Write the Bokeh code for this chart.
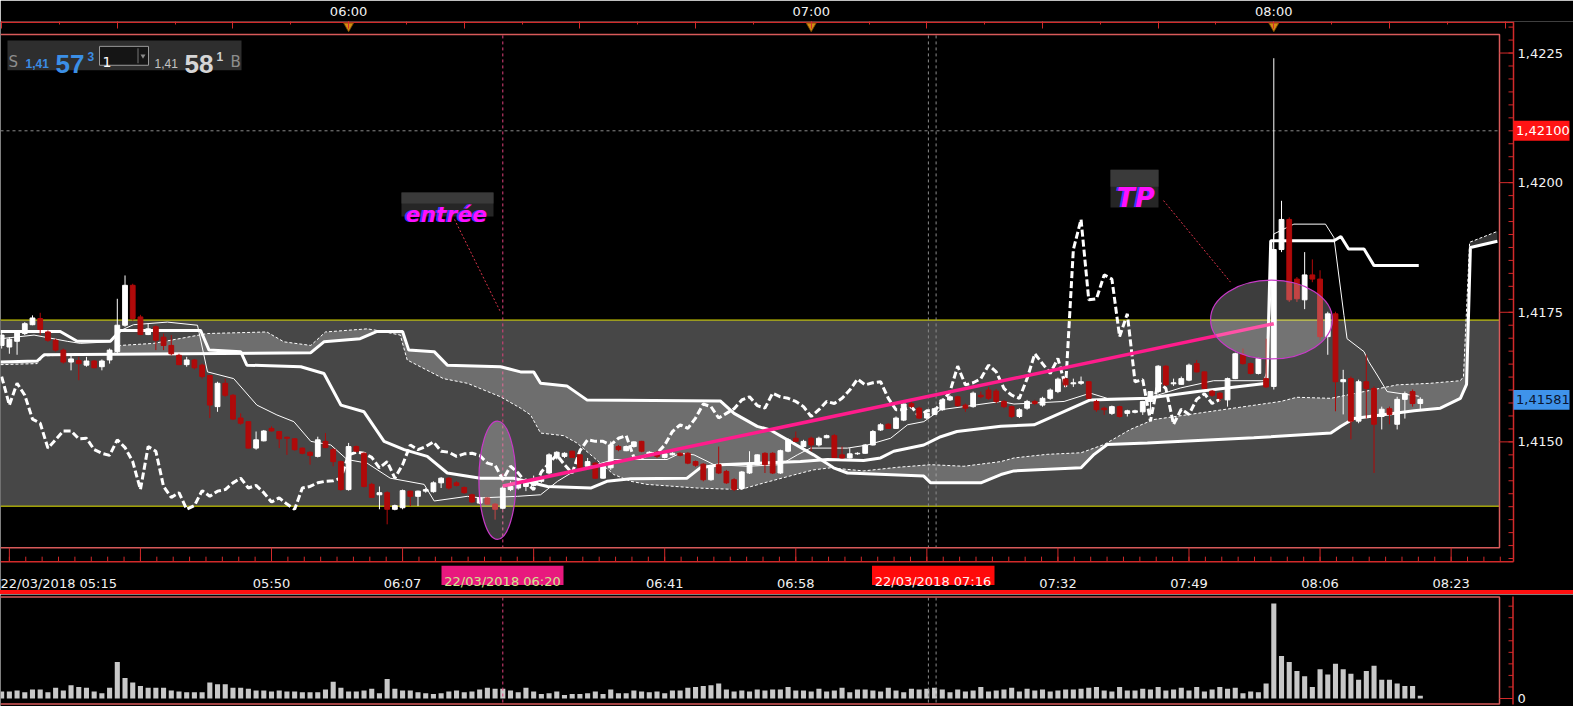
import json
from bokeh.plotting import figure
from bokeh.models import (Range1d, LinearAxis, FixedTicker, CustomJSTickFormatter,
                          Spacer, ColumnDataSource)
from bokeh.layouts import column
from bokeh.embed import file_html
from bokeh.resources import INLINE
from bokeh.core.properties import value

# ------------------------------------------------------------------ data
# one-minute bars, minutes since midnight, 22/03/2018 05:15 .. 08:19
times = list(range(315, 500))

open_ = [
 1.41686,1.41683,1.41694,1.41709,1.41726,1.41738,1.41712,1.41696,1.41677,1.41654,
 1.41657,1.41648,1.41656,1.41645,1.41658,1.41674,1.41725,1.41802,1.41741,1.41707,
 1.41722,1.41702,1.41686,1.41667,1.41649,1.41658,1.41648,1.41628,1.41568,1.41613,
 1.41590,1.41546,1.41539,1.41488,1.41502,1.41526,1.41520,1.41509,1.41506,1.41488,
 1.41480,1.41472,1.41501,1.41485,1.41462,1.41408,1.41491,1.41478,1.41418,1.41398,
 1.41402,1.41370,1.41373,1.41405,1.41395,1.41405,1.41404,1.41421,1.41430,1.41421,
 1.41412,1.41398,1.41382,1.41392,1.41380,1.41372,1.41408,1.41411,1.41414,1.41416,
 1.41424,1.41440,1.41469,1.41472,1.41482,1.41475,1.41453,1.41459,1.41430,1.41450,
 1.41491,1.41483,1.41491,1.41501,1.41475,1.41480,1.41470,1.41475,1.41478,1.41478,
 1.41462,1.41457,1.41427,1.41456,1.41443,1.41427,1.41410,1.41440,1.41456,1.41478,
 1.41478,1.41440,1.41482,1.41507,1.41491,1.41507,1.41494,1.41508,1.41512,1.41475,
 1.41469,1.41477,1.41478,1.41494,1.41523,1.41534,1.41526,1.41542,1.41574,1.41565,
 1.41546,1.41553,1.41562,1.41581,1.41587,1.41571,1.41568,1.41590,1.41600,1.41598,
 1.41578,1.41568,1.41549,1.41565,1.41578,1.41571,1.41584,1.41597,1.41621,1.41612,
 1.41613,1.41616,1.41578,1.41565,1.41555,1.41568,1.41555,1.41557,1.41558,1.41578,
 1.41597,1.41646,1.41612,1.41611,1.41619,1.41651,1.41635,1.41598,1.41594,1.41581,
 1.41622,1.41668,1.41651,1.41632,1.41622,1.41607,1.41871,1.41929,1.41814,1.41774,
 1.41822,1.41814,1.41703,1.41747,1.41616,1.41622,1.41540,1.41616,1.41603,1.41549,
 1.41564,1.41534,1.41582,1.41597,1.41574]

high = [
 1.41712,1.41702,1.41715,1.41731,1.41744,1.41749,1.41715,1.41699,1.41680,1.41670,
 1.41664,1.41664,1.41658,1.41659,1.41680,1.41776,1.41821,1.41805,1.41745,1.41728,
 1.41725,1.41709,1.41706,1.41670,1.41664,1.41660,1.41651,1.41629,1.41616,1.41622,
 1.41592,1.41555,1.41540,1.41520,1.41523,1.41530,1.41521,1.41510,1.41507,1.41489,
 1.41482,1.41510,1.41517,1.41488,1.41464,1.41498,1.41493,1.41480,1.41421,1.41414,
 1.41405,1.41379,1.41408,1.41406,1.41406,1.41411,1.41424,1.41432,1.41432,1.41424,
 1.41414,1.41400,1.41393,1.41393,1.41382,1.41414,1.41424,1.41430,1.41430,1.41435,
 1.41434,1.41478,1.41482,1.41480,1.41483,1.41476,1.41469,1.41461,1.41457,1.41501,
 1.41494,1.41493,1.41501,1.41502,1.41482,1.41482,1.41478,1.41480,1.41480,1.41480,
 1.41464,1.41459,1.41455,1.41491,1.41446,1.41430,1.41444,1.41482,1.41476,1.41480,
 1.41480,1.41485,1.41507,1.41520,1.41504,1.41510,1.41510,1.41514,1.41515,1.41491,
 1.41488,1.41480,1.41496,1.41523,1.41536,1.41536,1.41549,1.41574,1.41578,1.41568,
 1.41558,1.41566,1.41584,1.41590,1.41589,1.41574,1.41597,1.41597,1.41606,1.41602,
 1.41581,1.41570,1.41565,1.41581,1.41581,1.41587,1.41603,1.41624,1.41624,1.41622,
 1.41626,1.41617,1.41581,1.41568,1.41570,1.41570,1.41562,1.41562,1.41579,1.41598,
 1.41648,1.41648,1.41622,1.41626,1.41651,1.41658,1.41636,1.41600,1.41596,1.41624,
 1.41672,1.41680,1.41653,1.41662,1.41699,1.42240,1.41965,1.41933,1.41818,1.41866,
 1.41852,1.41831,1.41751,1.41751,1.41639,1.41626,1.41620,1.41668,1.41607,1.41568,
 1.41568,1.41587,1.41597,1.41601,1.41586]

low = [
 1.41680,1.41670,1.41668,1.41706,1.41725,1.41706,1.41693,1.41674,1.41651,1.41638,
 1.41619,1.41645,1.41642,1.41638,1.41651,1.41670,1.41722,1.41734,1.41706,1.41706,
 1.41677,1.41677,1.41667,1.41648,1.41645,1.41640,1.41622,1.41546,1.41558,1.41587,
 1.41542,1.41533,1.41487,1.41485,1.41501,1.41520,1.41488,1.41475,1.41483,1.41476,
 1.41456,1.41470,1.41488,1.41453,1.41406,1.41406,1.41480,1.41412,1.41392,1.41370,
 1.41341,1.41368,1.41370,1.41376,1.41376,1.41402,1.41402,1.41411,1.41408,1.41414,
 1.41400,1.41382,1.41380,1.41379,1.41350,1.41370,1.41405,1.41408,1.41405,1.41414,
 1.41421,1.41437,1.41466,1.41469,1.41469,1.41446,1.41451,1.41429,1.41429,1.41446,
 1.41482,1.41482,1.41489,1.41480,1.41472,1.41469,1.41468,1.41474,1.41472,1.41457,
 1.41452,1.41424,1.41425,1.41438,1.41419,1.41405,1.41408,1.41438,1.41455,1.41440,
 1.41438,1.41438,1.41480,1.41500,1.41489,1.41482,1.41491,1.41507,1.41469,1.41468,
 1.41468,1.41475,1.41477,1.41493,1.41521,1.41525,1.41525,1.41540,1.41565,1.41544,
 1.41544,1.41552,1.41560,1.41579,1.41568,1.41558,1.41566,1.41584,1.41581,1.41574,
 1.41565,1.41546,1.41546,1.41562,1.41571,1.41568,1.41581,1.41594,1.41606,1.41606,
 1.41610,1.41583,1.41558,1.41552,1.41552,1.41547,1.41549,1.41555,1.41552,1.41552,
 1.41594,1.41608,1.41608,1.41610,1.41617,1.41634,1.41602,1.41587,1.41578,1.41568,
 1.41621,1.41649,1.41630,1.41630,1.41604,1.41601,1.41866,1.41770,1.41770,1.41756,
 1.41808,1.41697,1.41668,1.41559,1.41553,1.41505,1.41536,1.41545,1.41440,1.41524,
 1.41534,1.41524,1.41545,1.41568,1.41563]

close = [
 1.41706,1.41698,1.41712,1.41728,1.41739,1.41717,1.41696,1.41677,1.41654,1.41660,
 1.41651,1.41656,1.41643,1.41656,1.41677,1.41725,1.41802,1.41738,1.41707,1.41718,
 1.41696,1.41686,1.41670,1.41649,1.41658,1.41643,1.41626,1.41571,1.41613,1.41590,
 1.41544,1.41536,1.41488,1.41504,1.41521,1.41521,1.41506,1.41507,1.41485,1.41478,
 1.41474,1.41504,1.41489,1.41462,1.41408,1.41491,1.41482,1.41414,1.41393,1.41402,
 1.41370,1.41377,1.41406,1.41395,1.41405,1.41408,1.41421,1.41430,1.41411,1.41416,
 1.41402,1.41384,1.41392,1.41380,1.41370,1.41411,1.41414,1.41421,1.41424,1.41425,
 1.41430,1.41475,1.41480,1.41478,1.41470,1.41450,1.41462,1.41430,1.41456,1.41494,
 1.41485,1.41491,1.41500,1.41482,1.41480,1.41472,1.41477,1.41478,1.41474,1.41459,
 1.41455,1.41427,1.41453,1.41440,1.41421,1.41408,1.41442,1.41459,1.41475,1.41456,
 1.41440,1.41483,1.41504,1.41501,1.41501,1.41494,1.41507,1.41512,1.41470,1.41469,
 1.41477,1.41478,1.41494,1.41520,1.41533,1.41526,1.41546,1.41573,1.41568,1.41546,
 1.41555,1.41564,1.41581,1.41587,1.41570,1.41565,1.41594,1.41587,1.41584,1.41578,
 1.41568,1.41549,1.41562,1.41578,1.41574,1.41584,1.41600,1.41621,1.41610,1.41614,
 1.41616,1.41584,1.41562,1.41562,1.41568,1.41549,1.41560,1.41560,1.41578,1.41597,
 1.41646,1.41610,1.41614,1.41622,1.41648,1.41635,1.41603,1.41590,1.41584,1.41622,
 1.41670,1.41651,1.41632,1.41661,1.41606,1.41871,1.41929,1.41774,1.41776,1.41822,
 1.41814,1.41703,1.41747,1.41616,1.41620,1.41540,1.41616,1.41603,1.41534,1.41563,
 1.41553,1.41582,1.41593,1.41574,1.41582]

volume = [
 8,8,9,7,10,10,7,12,9,15, 13,12,8,6,12,41,23,18,14,12,
 12,12,9,8,7,7,7,18,16,16, 12,12,11,9,9,8,9,8,8,7,
 7,7,10,19,12,8,8,9,11,6, 22,11,9,9,7,6,5,6,8,9,
 7,8,10,12,11,11,9,7,12,8, 5,6,8,4,5,5,6,8,5,10,
 6,6,9,8,7,8,6,9,9,12, 13,14,15,17,10,8,9,8,10,9,
 10,10,13,9,9,8,11,8,9,12, 7,10,10,9,8,12,9,7,11,10,
 11,12,10,7,10,8,9,13,8,9, 10,12,8,11,9,10,8,9,10,10,
 11,12,13,9,8,13,9,9,11,10, 13,9,10,12,9,13,8,10,13,11,
 12,6,8,7,17,107,48,41,31,25, 13,33,27,39,33,28,21,31,37,21,
 21,17,14,14,3]

# Ichimoku lines (time in minutes, price)
tenkan_t = [314.85,319.2,323.5,325.2,329.1,330.0,332.1,336.5,340.4,341.7,345.1,348.1,350.7,352.9,355.1,
            357.7,359.8,362.4,365.4,369.8,371.1,375.4,377.1,381.9,384.9,387.1,389.2,394.4,401.3,403.0,
            404.8,407.4,411.7,416.0,418.2,419.9,424.7,427.3,430.3,432.5,434.6,436.8,439.8,444.6,446.3,
            452.8,456.2,458.4,463.6,467.9,472.2,478.7,479.1,480.0,482.6,486.7,487.8,489.1,489.5,491.7,
            492.3,493.4,494.7,498.8]
tenkan_p = [1.41699,1.41706,1.41694,1.41690,1.41693,1.41712,1.41726,1.41731,1.41725,1.41635,
            1.41622,1.41571,1.41552,1.41539,1.41501,1.41494,1.41466,1.41459,1.41430,1.41418,
            1.41386,1.41395,1.41392,1.41395,1.41398,1.41424,1.41443,1.41466,1.41466,1.41478,
            1.41475,1.41456,1.41453,1.41456,1.41475,1.41488,1.41488,1.41494,1.41507,1.41533,
            1.41539,1.41562,1.41568,1.41578,1.41573,1.41578,1.41594,1.41584,1.41584,1.41604,
            1.41618,1.41618,1.41635,1.41901,1.41920,1.41920,1.41894,1.41744,1.41699,1.41674,
            1.41655,1.41629,1.41597,1.41588]

kijun_t = [314.85,322.6,324.8,329.1,330.4,340.8,341.9,346.0,346.8,353.8,356.8,359.0,362.0,364.6,367.2,
           370.2,372.8,377.1,381.4,385.8,391.4,393.5,396.6,403.9,405.6,408.2,418.6,422.1,426.8,429.0,
           430.7,434.6,436.8,438.9,444.6,448.9,456.2,463.6,470.1,479.1,479.6,487.8,488.7,489.7,491.7,
           493.0,498.8]
kijun_p = [1.41713,1.41713,1.41694,1.41694,1.41715,1.41715,1.41677,1.41674,1.41648,1.41645,
           1.41632,1.41571,1.41558,1.41501,1.41485,1.41472,1.41440,1.41430,1.41430,1.41414,
           1.41411,1.41424,1.41429,1.41430,1.41450,1.41456,1.41462,1.41466,1.41464,1.41469,
           1.41482,1.41494,1.41510,1.41520,1.41530,1.41533,1.41581,1.41584,1.41597,1.41613,
           1.41888,1.41888,1.41896,1.41872,1.41872,1.41840,1.41840]

span_a_t = [314.85,319.6,320.5,329.5,330.4,334.7,341.7,349.4,351.6,355.1,357.0,362.4,363.7,366.7,367.6,
            372.3,375.4,379.7,382.3,383.6,384.9,387.9,389.6,394.4,396.6,398.7,405.2,410.8,413.9,418.2,
            420.3,422.5,426.8,431.2,435.5,439.8,444.6,446.3,450.6,455.0,458.0,461.4,464.4,480.9,483.0,
            487.4,491.7,496.0,500.3,504.2,504.6,505.4,509.0]
span_a_p = [1.41649,1.41651,1.41666,1.41670,1.41686,1.41690,1.41709,1.41712,1.41693,1.41686,
            1.41712,1.41718,1.41715,1.41706,1.41658,1.41622,1.41613,1.41587,1.41565,1.41552,
            1.41517,1.41512,1.41498,1.41437,1.41424,1.41418,1.41411,1.41408,1.41421,1.41438,
            1.41446,1.41450,1.41444,1.41451,1.41456,1.41453,1.41462,1.41469,1.41476,1.41479,
            1.41495,1.41524,1.41543,1.41578,1.41586,1.41584,1.41597,1.41610,1.41613,1.41618,
            1.41626,1.41885,1.41906]

span_b_t = [314.85,319.6,320.5,355.1,356.8,361.5,363.7,367.0,367.8,371.1,372.8,379.7,382.3,384.0,384.9,
            388.3,390.9,408.2,410.0,413.0,414.7,420.3,422.9,424.7,434.6,435.5,442.0,444.6,446.3,455.0,
            456.7,458.4,463.6,477.4,487.4,488.7,490.4,498.2,501.6,504.2,505.0,505.5,509.0]
span_b_p = [1.41654,1.41656,1.41668,1.41672,1.41693,1.41699,1.41713,1.41713,1.41677,1.41674,
            1.41648,1.41645,1.41635,1.41635,1.41613,1.41608,1.41581,1.41579,1.41555,1.41530,
            1.41523,1.41475,1.41450,1.41440,1.41434,1.41421,1.41421,1.41437,1.41444,1.41450,
            1.41476,1.41495,1.41498,1.41508,1.41517,1.41530,1.41545,1.41560,1.41565,1.41584,
            1.41611,1.41875,1.41887]

# trade annotations
zone_top, zone_bottom = 1.41735, 1.41376
entry_time, entry_price = 380, 1.41415
tp_time, tp_price = 480, 1.41728
entry_ell = (379.3, 1.41426, 4.8, 0.00228)     # centre t, centre price, width (min), height (price)
tp_ell = (479.7, 1.41736, 15.8, 0.00152)
alert_level = 1.42100
last_price = 1.41581
cursor_time = 436            # 07:16
cursor_lines = [435.2, 436.2]
bid_quote, ask_quote = "1,41573", "1,41581"

top_hours = [360, 420, 480]
bottom_ticks = [316, 333, 350, 367, 384, 401, 418, 435, 452, 469, 486, 503]
bottom_labels = ["", "", "05:50", "06:07", "", "06:41", "06:58", "", "07:32", "07:49", "08:06", "08:23"]
price_ticks = [1.4150, 1.4175, 1.4200, 1.4225]
price_labels = ["1,4150", "1,4175", "1,4200", "1,4225"]
volume_ticks = [0]
volume_labels = ["0"]

# ------------------------------------------------------------------ geometry
W, H1, H2 = 1573, 590, 112
FR = 1513                 # right axis line (px)
PX_MIN = 7.71             # px per minute
T0 = 314.85               # minute at x = 0
PX_PRICE = 52120.0        # px per price unit

def tx(px):
    return T0 + px / PX_MIN

def py(y):
    return 1.42 + (180 - y) / PX_PRICE

VS = 95 / 107.0           # volume px per unit
def pv(y):
    return (104 - y) / VS

RED = "#d22a2a"
FRAMEC = "#d85a5a"
FONT = "DejaVu Sans"
TXT = "#f2f2f2"

def hhmm(m):
    return "%02d:%02d" % (int(m) // 60, int(m) % 60)

p1 = figure(width=W, height=H1, x_range=Range1d(tx(0), tx(W)), y_range=Range1d(py(H1), py(18)),
            output_backend="svg", toolbar_location=None,
            x_axis_location=None, y_axis_location=None,
            min_border_left=0, min_border_right=0, min_border_top=18, min_border_bottom=0,
            background_fill_color="black", border_fill_color="black", outline_line_color=None)
p1.grid.visible = False

# --- time axis on top (real axis)
q15 = [315 + 15 * i for i in range(14)]
q75 = [315 + 7.5 * i for i in range(27)]
top_ax = LinearAxis(
    ticker=FixedTicker(ticks=q15, minor_ticks=q75),
    formatter=CustomJSTickFormatter(code="""
        const m = Math.round(tick);
        if (%s.indexOf(m) < 0) return '';
        const h = Math.floor(m / 60);
        return (h < 10 ? '0' : '') + h + ':00';""" % json.dumps(top_hours)),
    axis_line_color=None,
    major_tick_line_color=RED, minor_tick_line_color=RED,
    major_tick_in=7, major_tick_out=0, minor_tick_in=3, minor_tick_out=0,
    major_label_text_color=TXT, major_label_text_font=FONT,
    major_label_text_font_size="13px", major_label_standoff=3)
p1.add_layout(top_ax, "above")
p1.line([tx(0), tx(FR)], [py(18.7), py(18.7)], line_color=RED, line_width=1.5)

# --- zone band
p1.quad(left=tx(0), right=tx(1499), bottom=zone_bottom, top=zone_top,
        fill_color="#474747", line_color=None)
p1.segment(x0=[tx(0)] * 2, x1=[tx(1499)] * 2, y0=[zone_top, zone_bottom], y1=[zone_top, zone_bottom],
           line_color="#e4e400", line_width=1)

# --- alert level, cursor lines
p1.segment(x0=tx(0), x1=tx(1499), y0=alert_level, y1=alert_level,
           line_color="#8a8a8a", line_dash="3 3", line_width=1)
p1.segment(x0=cursor_lines, x1=cursor_lines, y0=py(32), y1=py(547),
           line_color="#8a8a8a", line_dash="3 3", line_width=1)
p1.segment(x0=entry_time, x1=entry_time, y0=py(32), y1=py(547),
           line_color="#e0407c", line_dash="3 3", line_width=1)

# --- cloud
p1.patch(span_a_t + span_b_t[::-1], span_a_p + span_b_p[::-1],
         fill_color="white", fill_alpha=0.21, line_color=None)
p1.line(span_b_t, span_b_p, line_color="white", line_width=3)
p1.line(span_a_t, span_a_p, line_color="white", line_width=1, line_dash="3 2")

# --- kijun / tenkan / chikou
p1.line(kijun_t, kijun_p, line_color="white", line_width=3)
p1.line(tenkan_t, tenkan_p, line_color="white", line_width=1)
p1.line(times[:-26], close[26:], line_color="white", line_width=3, line_dash="7 3")

# --- candles
up = [c >= o for o, c in zip(open_, close)]
src = ColumnDataSource(dict(
    t=times, o=open_, h=high, l=low, c=close,
    top=[max(o, c) for o, c in zip(open_, close)],
    bot=[min(o, c) for o, c in zip(open_, close)],
    col=["#ffffff" if u else "#b00a0a" for u in up]))
p1.segment(x0="t", y0="l", x1="t", y1="h", line_color="col", line_width=1, source=src)
p1.vbar(x="t", width=0.62, top="top", bottom="bot", fill_color="col", line_color="col",
        line_width=1, source=src)

# --- trade line & ellipses
p1.line([entry_time, tp_time], [entry_price, tp_price], line_color="#ff1c8c", line_width=3.5)
for cx, cy, ew, eh in (entry_ell, tp_ell):
    p1.ellipse(x=cx, y=cy, width=ew, height=eh, fill_color="white", fill_alpha=0.24,
               line_color="#c83ac8", line_width=1.2)

# --- leaders
p1.line([tx(454), tx(500)], [py(217), py(310)], line_color="#d8344a", line_dash="2 2", line_width=1)
p1.line([tx(1163), tx(1230)], [py(198), py(280)], line_color="#d8344a", line_dash="2 2", line_width=1)

# --- note boxes
p1.quad(left=[tx(401), tx(1110)], right=[tx(493), tx(1158)], top=[py(190), py(167)],
        bottom=[py(214), py(205)], fill_color="#262626", line_color=None)
p1.quad(left=[tx(401), tx(1110)], right=[tx(493), tx(1158)], top=[py(190), py(167)],
        bottom=[py(201), py(184)], fill_color="#3a3a3a", line_color=None)
for dx, col in ((-1.5, "#3c3cff"), (0, "#ff10ff")):
    p1.text(x=[tx(405 + dx)], y=[py(212)], text=["entrée"], text_font=value(FONT),
            text_font_style="bold italic", text_font_size="22px", text_color=col,
            text_baseline="alphabetic", text_align="left")
    p1.text(x=[tx(1116 + dx)], y=[py(195)], text=["TP"], text_font=value(FONT),
            text_font_style="bold italic", text_font_size="27px", text_color=col,
            text_baseline="alphabetic", text_align="left")

# --- hour markers on the top strip
p1.scatter(x=top_hours, y=[py(22.5)] * 3, marker="inverted_triangle", size=10,
           fill_color="#d48a12", line_color="#7a4a00", line_width=0.8)

# --- inner frame
p1.line([tx(0), tx(1499), tx(1499), tx(0)], [py(31), py(31), py(547), py(547)],
        line_color=FRAMEC, line_width=1.5)

# --- price scale on the right
p1.segment(x0=tx(FR), x1=tx(FR), y0=py(18), y1=py(561), line_color=RED, line_width=1.5)
rminor = [round(1.4125 + 0.00025 * i, 5) for i in range(45)]
rminor = [v for v in rminor if py(561) < v < py(18)]
p1.segment(x0=tx(1508), x1=tx(FR), y0=rminor, y1=rminor, line_color=RED, line_width=1)
p1.segment(x0=tx(1499), x1=tx(FR), y0=price_ticks, y1=price_ticks, line_color=RED, line_width=1)
p1.text(x=[tx(1517)] * len(price_ticks), y=price_ticks, text=price_labels, text_font=value(FONT),
        text_font_size="13px", text_color=TXT, text_baseline="middle", text_align="left")
HB = 10 / PX_PRICE
p1.quad(left=[tx(FR), tx(FR)], right=[tx(1569), tx(1569)],
        top=[alert_level + HB, last_price + HB], bottom=[alert_level - HB, last_price - HB],
        fill_color=["#ff1414", "#3f93ea"], line_color=None)
p1.text(x=[tx(1515.5)] * 2, y=[alert_level, last_price],
        text=[("%.5f" % alert_level).replace(".", ","), ("%.5f" % last_price).replace(".", ",")],
        text_font=value(FONT), text_font_size="13px", text_color=["#ffffff", "#0b1630"],
        text_baseline="middle", text_align="left")

# --- time scale at the bottom
p1.segment(x0=tx(0), x1=tx(FR), y0=py(561), y1=py(561), line_color=RED, line_width=1.5)
bminor = [316 + 17 / 8 * i for i in range(-1, 93)]
bminor = [v for v in bminor if tx(0) <= v <= tx(FR)]
p1.segment(x0=bminor, x1=bminor, y0=py(556), y1=py(561), line_color=RED, line_width=1)
p1.segment(x0=bottom_ticks, x1=bottom_ticks, y0=py(547), y1=py(561), line_color=RED, line_width=1)
shown = [(t, s) for t, s in zip(bottom_ticks, bottom_labels) if s]
p1.text(x=[t for t, s in shown], y=[py(582.5)] * len(shown), text=[s for t, s in shown],
        text_font=value(FONT), text_font_size="13px", text_color=TXT,
        text_baseline="alphabetic", text_align="center")
p1.text(x=[tx(0)], y=[py(582.5)], text=["22/03/2018 " + hhmm(315)], text_font=value(FONT),
        text_font_size="13px", text_color=TXT, text_baseline="alphabetic", text_align="left")
p1.quad(left=[tx(441), tx(871.5)], right=[tx(563), tx(994)], top=[py(565), py(565)],
        bottom=[py(584.5), py(584.5)], fill_color=["#e8187e", "#ff0a0a"], line_color=None)
p1.text(x=[tx(502), tx(932.5)], y=[py(580.5)] * 2,
        text=["22/03/2018 " + hhmm(entry_time), "22/03/2018 " + hhmm(cursor_time)],
        text_font=value(FONT), text_font_size="13px", text_color=["#cfe68f", "#fff0f0"],
        text_baseline="alphabetic", text_align="center")

# --- quote widget
p1.quad(left=tx(7), right=tx(241), top=py(37), bottom=py(67), fill_color="#2e2e2e", line_color=None)
p1.quad(left=tx(99), right=tx(148), top=py(43), bottom=py(62), fill_color="#151515",
        line_color="#9a9a9a", line_width=1)
p1.segment(x0=tx(137.5), x1=tx(137.5), y0=py(45), y1=py(60), line_color="#777777", line_width=1)
p1.scatter(x=[tx(142.5)], y=[py(52.5)], marker="inverted_triangle", size=5,
           fill_color="#8a8a8a", line_color=None)
wtxt = [
    ("S", 8, 58.5, "15px", "#8e8e8e", "normal", FONT),
    (bid_quote[:4], 25, 60.5, "12px", "#3b8ce4", "bold", "Liberation Sans"),
    (bid_quote[4:6], 55, 60.5, "26px", "#3b8fe6", "bold", "Liberation Sans"),
    (bid_quote[6], 87, 53.5, "12px", "#3b8ce4", "bold", "Liberation Sans"),
    ("1", 102, 58.5, "14px", "#ffffff", "normal", FONT),
    (ask_quote[:4], 154, 60.5, "12px", "#c4c4c4", "normal", "Liberation Sans"),
    (ask_quote[4:6], 184, 60.5, "26px", "#d6d6d6", "bold", "Liberation Sans"),
    (ask_quote[6], 216, 53.5, "12px", "#d0d0d0", "bold", "Liberation Sans"),
    ("B", 230, 58.5, "15px", "#8e8e8e", "normal", FONT),
]
for s, x, y, fs, colr, st, fnt in wtxt:
    p1.text(x=[tx(x)], y=[py(y)], text=[s], text_font=value(fnt), text_font_style=st,
            text_font_size=fs, text_color=colr, text_baseline="alphabetic", text_align="left")

# ------------------------------------------------------------------ volume panel
p2 = figure(width=W, height=H2, x_range=Range1d(tx(0), tx(W)), y_range=Range1d(pv(H2), pv(0)),
            output_backend="svg", toolbar_location=None,
            x_axis_location=None, y_axis_location=None,
            min_border_left=0, min_border_right=0, min_border_top=0, min_border_bottom=0,
            background_fill_color="black", border_fill_color="black", outline_line_color=None)
p2.grid.visible = False
p2.vbar(x=times, top=volume, bottom=0, width=0.66, fill_color="#c8c8c8", line_color=None)
p2.segment(x0=cursor_lines, x1=cursor_lines, y0=pv(3), y1=pv(109),
           line_color="#8a8a8a", line_dash="3 3", line_width=1)
p2.segment(x0=entry_time, x1=entry_time, y0=pv(3), y1=pv(109),
           line_color="#e0407c", line_dash="3 3", line_width=1)
p2.line([tx(0), tx(1499), tx(1499), tx(0)], [pv(2.5), pv(2.5), pv(109.5), pv(109.5)],
        line_color=FRAMEC, line_width=1.5)
# volume scale on the right
p2.segment(x0=tx(1512.5), x1=tx(1512.5), y0=pv(2), y1=pv(110), line_color=RED, line_width=1.5)
vminor = [13, 26, 39, 52, 65, 78, 91, 104]
p2.segment(x0=tx(1508), x1=tx(1512.5), y0=vminor, y1=vminor, line_color=RED, line_width=1)
p2.segment(x0=tx(1499), x1=tx(1512.5), y0=volume_ticks, y1=volume_ticks, line_color=RED, line_width=1)
p2.text(x=[tx(1517)] * len(volume_ticks), y=volume_ticks, text=volume_labels, text_font=value(FONT),
        text_font_size="13px", text_color=TXT, text_baseline="middle", text_align="left")

sep = Spacer(width=W, height=4, styles={"background-color": "#ff1010"})
layout = column(p1, sep, p2)
open("out.html", "w").write(file_html(layout, INLINE))
